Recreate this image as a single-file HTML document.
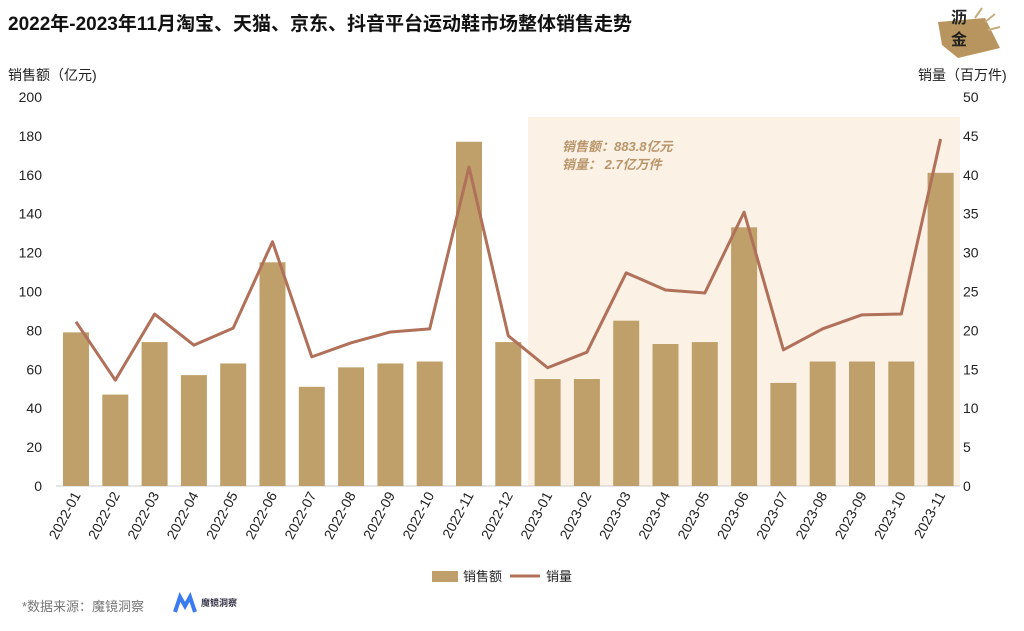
<!DOCTYPE html>
<html><head><meta charset="utf-8"><style>
body{margin:0;background:#fff;width:1024px;height:626px;overflow:hidden;font-family:"Liberation Sans","Noto Sans CJK SC",sans-serif}
</style></head><body>
<svg id="s" width="1024" height="626" xmlns="http://www.w3.org/2000/svg" font-family="Liberation Sans, Noto Sans CJK SC, sans-serif">
<rect width="1024" height="626" fill="#fff"/>
<text x="8" y="30" font-size="19" font-weight="bold" fill="#111">2022年-2023年11月淘宝、天猫、京东、抖音平台运动鞋市场整体销售走势</text>
<polygon points="938,22 985,18 1000,48 958,58 942,45" fill="#b8955e"/>
<line x1="975" y1="18" x2="982" y2="8" stroke="#c9ad80" stroke-width="2"/>
<line x1="985" y1="22" x2="995" y2="14" stroke="#c9ad80" stroke-width="2"/>
<line x1="988" y1="30" x2="1000" y2="27" stroke="#c9ad80" stroke-width="2"/>
<text x="951" y="23" font-size="16" font-weight="bold" fill="#222">沥</text>
<text x="951" y="45" font-size="16" font-weight="bold" fill="#222">金</text>
<text x="8" y="80" font-size="14" fill="#222">销售额（亿元)</text>
<text x="918" y="80" font-size="14" fill="#222">销量（百万件)</text>
<rect x="528" y="117" width="432" height="369" fill="#fbf1e5"/>
<text x="562" y="151" font-size="13" font-weight="bold" font-style="italic" fill="#b8956a">销售额：883.8亿元</text>
<text x="562" y="169" font-size="13" font-weight="bold" font-style="italic" fill="#b8956a">销量：   2.7亿万件</text>
<g id="g"></g>
<rect x="432" y="571" width="26" height="11" fill="#bfa06a"/>
<text x="463" y="581" font-size="13" fill="#222">销售额</text>
<line x1="510" y1="576" x2="540" y2="576" stroke="#b0705a" stroke-width="3"/>
<text x="546" y="581" font-size="13" fill="#222">销量</text>
<text x="22" y="611" font-size="13" fill="#777">*数据来源：魔镜洞察</text>
<path d="M175,612 L180,597 L185,606 L190,597 L195,612" stroke="#3a7bf0" stroke-width="4" fill="none"/>
<text x="201" y="606" font-size="9" font-weight="bold" fill="#334">魔镜洞察</text>
</svg>
<script>
var bars=[79,47,74,57,63,115,51,61,63,64,177,74,55,55,85,73,74,133,53,64,64,64,161];
var line=[21.1,13.6,22.1,18.1,20.3,31.4,16.6,18.4,19.8,20.2,41,19.3,15.2,17.2,27.4,25.2,24.8,35.2,17.5,20.2,22,22.1,44.6];
var h='',y0=486,k=389/200;
for(var v=0;v<=200;v+=20){var y=y0-v*k;h+='<text x="42" y="'+(y+5)+'" font-size="14" text-anchor="end" fill="#222">'+v+'</text>';}
for(var v=0;v<=50;v+=5){var y=y0-v*k*4;h+='<text x="963" y="'+(y+5)+'" font-size="14" fill="#222">'+v+'</text>';}
h+='<line x1="56" y1="486" x2="960" y2="486" stroke="#ccc"/>';
var pts=[];
for(var i=0;i<23;i++){var x=76+i*39.3;var bh=bars[i]*k;
h+='<rect x="'+(x-13)+'" y="'+(y0-bh)+'" width="26" height="'+bh+'" fill="#bfa06a"/>';
pts.push(x+','+(y0-line[i]*k*4));
var lab=(i<12?'2022-':'2023-')+String(i%12+1).padStart(2,'0');
h+='<text transform="translate('+(x+5)+',495) rotate(-62)" font-size="14" text-anchor="end" fill="#222">'+lab+'</text>';}
h+='<polyline points="'+pts.join(' ')+'" fill="none" stroke="#b0705a" stroke-width="3" stroke-linejoin="round"/>';
document.getElementById('g').innerHTML=h;
</script>
</body></html>
